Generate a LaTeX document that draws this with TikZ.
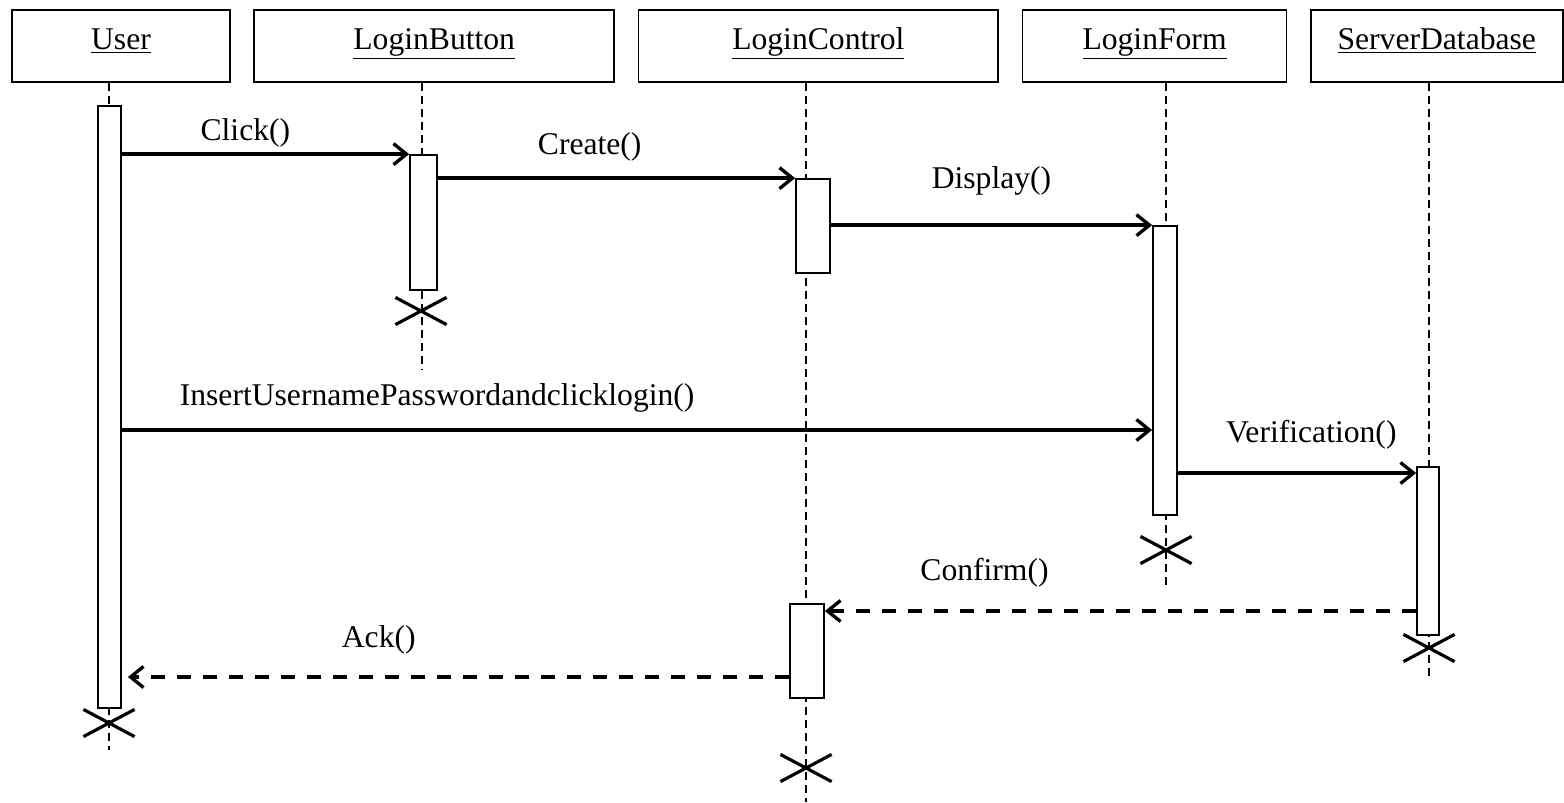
\documentclass[tikz,border=0pt]{standalone}
\usepackage{fontspec}
\setmainfont{Liberation Serif}
\usetikzlibrary{positioning,arrows.meta,shapes.misc}

\begin{document}
\begin{tikzpicture}[x=0.02cm,y=-0.02cm,>={Straight Barb[length=0.26cm,width=0.42cm]},font=\fontsize{18}{21}\selectfont]
\tikzstyle{head}=[rectangle,draw=black,line width=1pt,minimum height=1.44cm,inner sep=0pt,text height=0.72em,text depth=0.36em]
\tikzstyle{act}=[rectangle,draw=black,fill=white,line width=1pt,inner sep=0pt]
\tikzstyle{life}=[line width=0.6pt,dash pattern=on 0.16cm off 0.1cm]
\tikzstyle{msg}=[->,line width=1.9pt]
\tikzstyle{reply}=[->,line width=1.9pt,dash pattern=on 0.28cm off 0.24cm]
\tikzstyle{kill}=[cross out,draw=black,line width=1.8pt,minimum width=0.96cm,minimum height=0.48cm,inner sep=0pt]
\tikzstyle{lbl}=[inner sep=1pt]
\useasboundingbox (0,0) rectangle (1564,802);
% objects
\node[head, minimum width=4.36cm] (user) at (121,46) {\underline{User}};
\node[head, minimum width=7.2cm, right=0.45cm of user] (button) {\underline{LoginButton}};
\node[head, minimum width=7.2cm, right=0.45cm of button] (control) {\underline{LoginControl}};
\node[head, minimum width=5.28cm, right=0.45cm of control] (form) {\underline{LoginForm}};
\node[head, minimum width=5.04cm, right=0.45cm of form] (db) {\underline{ServerDatabase}};
% lifelines
\coordinate (uend) at (109,750);
\coordinate (bend) at (422,370);
\coordinate (cend) at (806,802);
\coordinate (fend) at (1166,585);
\coordinate (dend) at (1429,680);
\foreach \h/\e in {user/uend,button/bend,control/cend,form/fend,db/dend}
  \draw[life] (\e |- \h.south) -- (\e);
% activations
\node[act, minimum width=0.46cm, minimum height=12.04cm] (uact) at (109.5,407) {};
\node[act, minimum width=0.54cm, minimum height=2.7cm] (bact) at (423.5,222.5) {};
\node[act, minimum width=0.68cm, minimum height=1.88cm] (cact1) at (813,226) {};
\node[act, minimum width=0.68cm, minimum height=1.88cm] (cact2) at (807,651) {};
\node[act, minimum width=0.48cm, minimum height=5.78cm] (fact) at (1165,370.5) {};
\node[act, minimum width=0.44cm, minimum height=3.36cm] (dact) at (1428,551) {};
% messages
\draw[msg] (uact.east |- bact.north) -- node[lbl,above=0.07cm,pos=0.43]{Click()} (bact.north west);
\draw[msg] (bact.east |- cact1.north) -- node[lbl,above=0.27cm,pos=0.425]{Create()} (cact1.north west);
\draw[msg] (cact1.east |- fact.north) -- node[lbl,above=0.53cm,pos=0.5]{Display()} (fact.north west);
\draw[msg] (uact.east |- 0,430) -- node[lbl,above=0.29cm,pos=0.306]{InsertUsernamePasswordandclicklogin()} (fact.west |- 0,430);
\draw[msg] (fact.east |- 0,473) -- node[lbl,above=0.41cm,pos=0.56]{Verification()} (dact.west |- 0,473);
\draw[reply] (dact.west |- 0,611) -- node[lbl,above=0.41cm,pos=0.73]{Confirm()} (cact2.east |- 0,611);
\draw[reply,shorten >=0.12cm] (cact2.west |- 0,677) -- node[lbl,above=0.39cm,pos=0.615]{Ack()} (uact.east |- 0,677);
% destruction
\node[kill] (ux) at (109,723) {};
\node[kill] (bx) at (421,311) {};
\node[kill] (cx) at (806,768) {};
\node[kill] (fx) at (1166,550) {};
\node[kill] (dx) at (1429,648) {};
\end{tikzpicture}
\end{document}
